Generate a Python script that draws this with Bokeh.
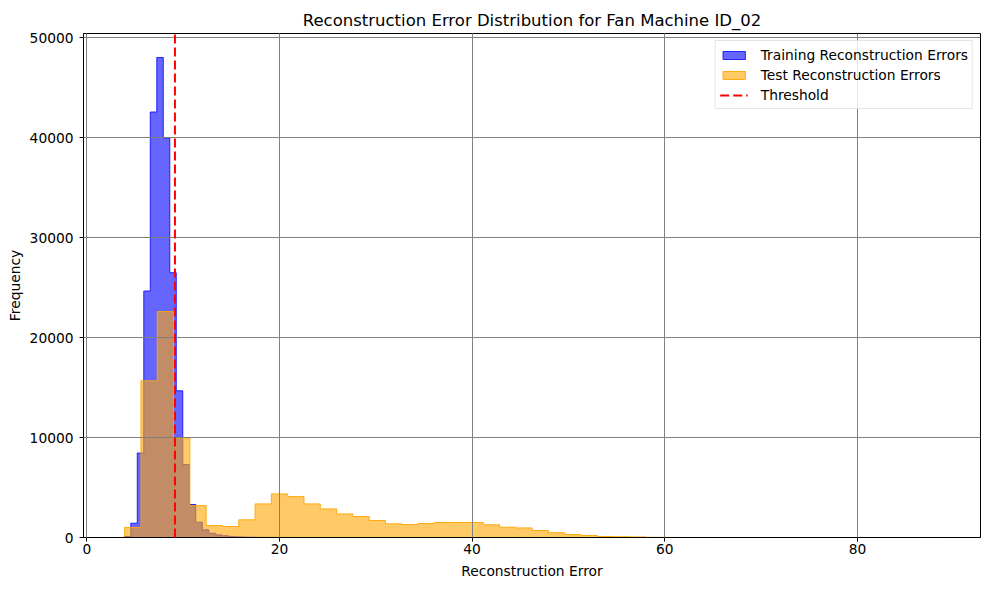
import numpy as np
from bokeh.plotting import figure
from bokeh.models import Range1d, Legend
from bokeh.embed import file_html
from bokeh.resources import INLINE

# ---- data ----
train_range = (3.89, 37.64)   # training histogram: 50 bins
test_range = (3.93, 88.54)    # test histogram: 50 bins
n_bins = 50

train_counts = [100, 1430, 8450, 24650, 42550, 48000, 39950, 26480, 14670, 7290,
                3300, 1530, 770, 430, 270, 180, 110, 70, 45, 30,
                20, 15, 10, 8, 6, 5, 4, 3, 3, 2,
                2, 1, 1, 1, 0, 0, 0, 0, 0, 0,
                0, 0, 0, 0, 0, 0, 0, 0, 0, 1]

test_counts = [1000, 15670, 22590, 9950, 3190, 1200, 1100, 1770, 3360, 4360,
               4090, 3360, 2860, 2360, 2100, 1700, 1370, 1300, 1400, 1500,
               1500, 1500, 1270, 1030, 960, 700, 470, 300, 200, 100,
               80, 60, 20, 5, 2, 1, 0, 0, 0, 0,
               0, 0, 0, 0, 0, 0, 0, 0, 0, 1]

threshold = 9.15

x_ticks = [0, 20, 40, 60, 80]
y_ticks = [0, 10000, 20000, 30000, 40000, 50000]

FONT = "DejaVu Sans"


def step_outline(edges, counts):
    xs = np.repeat(edges, 2)
    ys = np.concatenate([[0], np.repeat(counts, 2), [0]])
    return xs, ys


train_edges = np.linspace(train_range[0], train_range[1], n_bins + 1)
test_edges = np.linspace(test_range[0], test_range[1], n_bins + 1)

lo = min(train_range[0], test_range[0])
hi = max(train_range[1], test_range[1])
pad = 0.05 * (hi - lo)
ymax = 1.05 * max(max(train_counts), max(test_counts))

p = figure(width=981, height=582, output_backend="svg", toolbar_location=None,
           x_range=Range1d(lo - pad, hi + pad), y_range=Range1d(0, ymax),
           min_border_left=83, min_border_right=1, min_border_top=33,
           min_border_bottom=45)

p.title.text = "Reconstruction Error Distribution for Fan Machine ID_02"
p.title.align = "center"
p.title.text_font = FONT
p.title.text_font_style = "normal"
p.title.text_font_size = "16.5px"
p.title.text_color = "black"
p.title.standoff = 7

tx, ty = step_outline(train_edges, train_counts)
r_train = p.patch(tx, ty, fill_color="blue", fill_alpha=0.6,
                  line_color="blue", line_alpha=0.8, line_width=1)
sx, sy = step_outline(test_edges, test_counts)
r_test = p.patch(sx, sy, fill_color="orange", fill_alpha=0.6,
                 line_color="orange", line_alpha=0.9, line_width=1)

r_thr = p.line(x=[threshold, threshold], y=[0, ymax], line_color="red",
               line_dash="9 4", line_width=2, level="annotation")

legend = Legend(items=[("Training Reconstruction Errors", [r_train]),
                       ("Test Reconstruction Errors", [r_test]),
                       ("Threshold", [r_thr])],
                location="top_right")
legend.label_text_font = FONT
legend.label_text_font_size = "13.8px"
legend.label_text_color = "black"
legend.label_standoff = 13
legend.glyph_width = 28
legend.glyph_height = 10
legend.label_height = 19
legend.spacing = 1
legend.padding = 4
legend.margin = 7
legend.border_line_color = "#cccccc"
legend.background_fill_alpha = 0.8
p.add_layout(legend)

for g in (p.xgrid, p.ygrid):
    g.grid_line_color = "#808080"
    g.grid_line_width = 1
    g.level = "guide"
p.xgrid.ticker = x_ticks
p.ygrid.ticker = y_ticks

p.xaxis.ticker = x_ticks
p.yaxis.ticker = y_ticks
p.xaxis.axis_label = "Reconstruction Error"
p.yaxis.axis_label = "Frequency"
for ax in (p.xaxis, p.yaxis):
    ax.axis_label_text_font = FONT
    ax.axis_label_text_font_size = "13.8px"
    ax.axis_label_text_font_style = "normal"
    ax.major_label_text_font = FONT
    ax.major_label_text_font_size = "13.8px"
    ax.major_tick_in = 0
    ax.major_tick_out = 4
    ax.minor_tick_line_color = None
    ax.axis_line_color = "black"
    ax.major_tick_line_color = "black"
    ax.major_label_text_color = "black"
    ax.axis_label_text_color = "black"
p.xaxis.major_label_standoff = 2
p.xaxis.axis_label_standoff = 6
p.yaxis.major_label_standoff = 6
p.yaxis.axis_label_standoff = 4

p.outline_line_color = "black"
p.outline_line_width = 1
p.background_fill_color = "white"

open("out.html", "w").write(file_html(p, INLINE))
